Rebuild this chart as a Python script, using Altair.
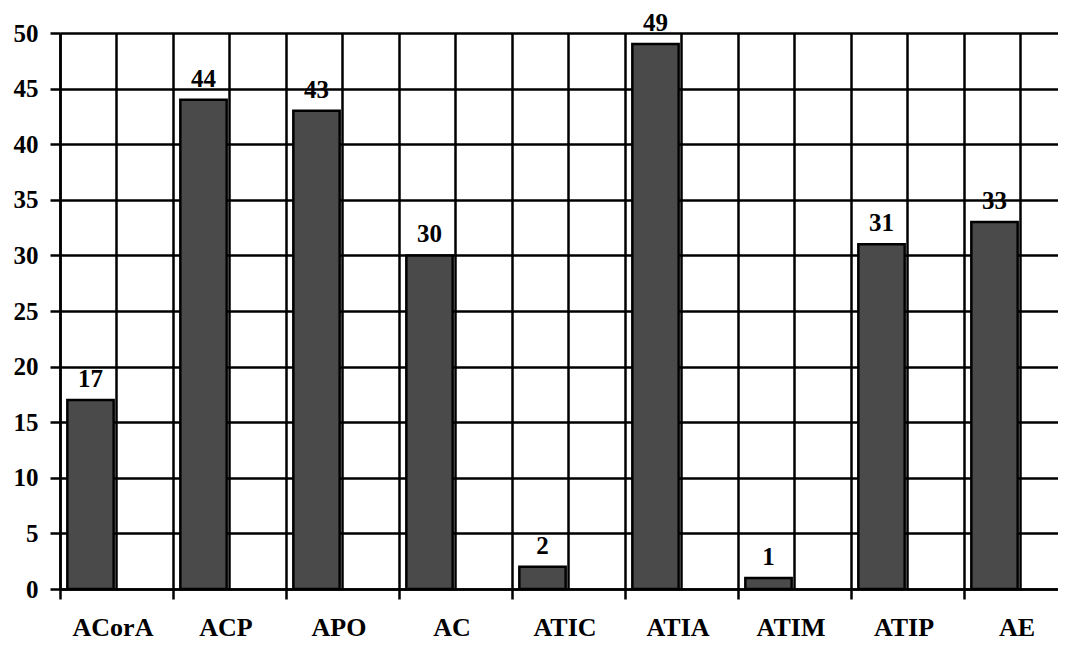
import altair as alt
import pandas as pd

categories = ["ACorA", "ACP", "APO", "AC", "ATIC", "ATIA", "ATIM", "ATIP", "AE"]
values = [17, 44, 43, 30, 2, 49, 1, 31, 33]

df = pd.DataFrame({"cat": categories, "val": values})

FONT = "Liberation Serif"

xscale = alt.Scale(domain=categories, paddingInner=0, paddingOuter=0, range=[0, 1017])
yscale = alt.Scale(domain=[0, 50], nice=False)

x_axis = alt.Axis(
    title=None, orient="bottom", tickBand="extent", grid=True,
    gridColor="black", gridWidth=2.5, gridOpacity=1,
    domainColor="black", domainWidth=2.5,
    tickColor="black", tickWidth=2.5, tickSize=10,
    labelFont=FONT, labelFontSize=26, labelFontWeight="bold", labelColor="black",
    labelPadding=15, labelAngle=0, labelOffset=-4,
)
y_axis = alt.Axis(
    title=None, values=list(range(0, 51, 5)), grid=True,
    gridColor="black", gridWidth=2.5, gridOpacity=1,
    domainColor="black", domainWidth=2.5,
    tickColor="black", tickWidth=2.5, tickSize=10,
    labelFont=FONT, labelFontSize=25, labelFontWeight="bold", labelColor="black",
    labelPadding=12,
)

base = alt.Chart(df)

midlines = base.mark_rule(color="black", strokeWidth=2.5).encode(
    x=alt.X("cat:N", scale=xscale, sort=categories, axis=x_axis),
)

bars = base.mark_bar(
    color="#4a4a4a", stroke="black", strokeWidth=2.5,
    width=alt.RelativeBandSize(0.41), xOffset=-26,
).encode(
    x=alt.X("cat:N", scale=xscale, sort=categories, axis=x_axis),
    y=alt.Y("val:Q", scale=yscale, axis=y_axis),
)

labels = base.mark_text(
    font=FONT, fontSize=25, fontWeight="bold", color="black",
    baseline="alphabetic", dy=-13, xOffset=-26,
).encode(
    x=alt.X("cat:N", scale=xscale, sort=categories, axis=x_axis),
    y=alt.Y("val:Q", scale=yscale, axis=y_axis),
    text="val:Q",
)

chart = alt.layer(midlines, bars, labels).properties(
    width=998, height=556,
    autosize=alt.AutoSizeParams(type="none"),
    padding={"left": 52, "top": 25, "right": 0, "bottom": 60},
).configure_view(stroke=None).configure(background="white")

chart.save("out.html", embed_options={"renderer": "svg", "actions": False})
